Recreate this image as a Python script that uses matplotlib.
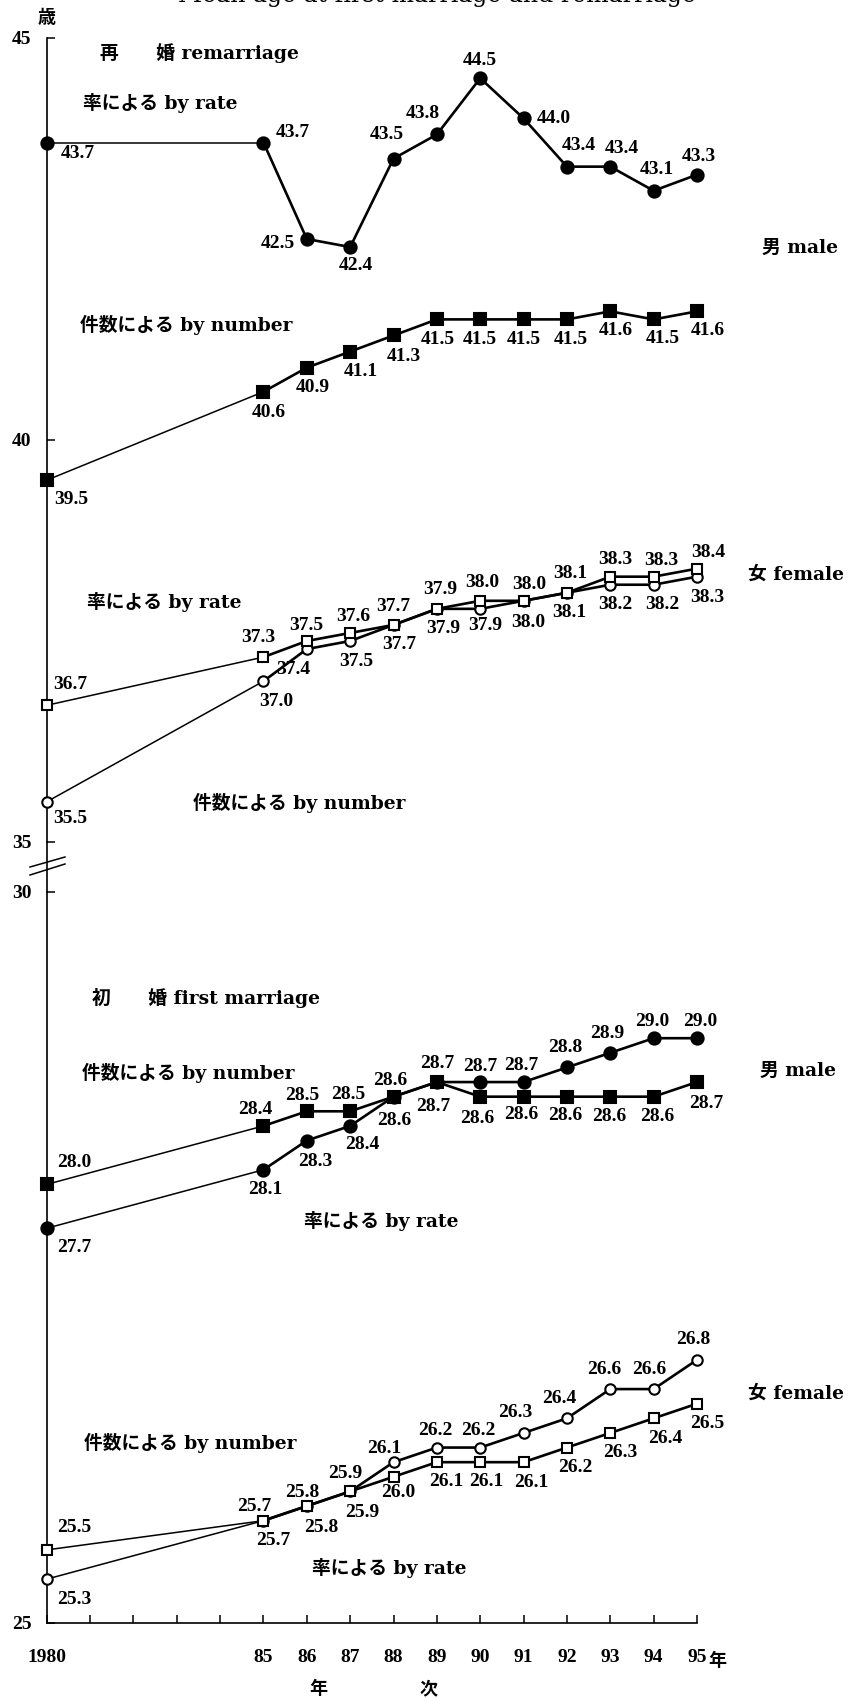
import matplotlib
matplotlib.use('Agg')
import matplotlib.pyplot as plt
from matplotlib.lines import Line2D

#------------ donnees ----------
years = [1980, 1985, 1986, 1987, 1988, 1989, 1990, 1991, 1992, 1993, 1994, 1995]
tick_labels = ['1980', '85', '86', '87', '88', '89', '90', '91', '92', '93', '94', '95']
minor_years = [1981, 1982, 1983, 1984]

# remarriage (re)
re_male_rate = [43.7, 43.7, 42.5, 42.4, 43.5, 43.8, 44.5, 44.0, 43.4, 43.4, 43.1, 43.3]
re_male_number = [39.5, 40.6, 40.9, 41.1, 41.3, 41.5, 41.5, 41.5, 41.5, 41.6, 41.5, 41.6]
re_female_rate = [36.7, 37.3, 37.5, 37.6, 37.7, 37.9, 38.0, 38.0, 38.1, 38.3, 38.3, 38.4]
re_female_number = [35.5, 37.0, 37.4, 37.5, 37.7, 37.9, 37.9, 38.0, 38.1, 38.2, 38.2, 38.3]

# first marriage
first_male_number = [28.0, 28.4, 28.5, 28.5, 28.6, 28.7, 28.6, 28.6, 28.6, 28.6, 28.6, 28.7]
first_male_rate = [27.7, 28.1, 28.3, 28.4, 28.6, 28.7, 28.7, 28.7, 28.8, 28.9, 29.0, 29.0]
first_female_number = [25.5, 25.7, 25.8, 25.9, 26.0, 26.1, 26.1, 26.1, 26.2, 26.3, 26.4, 26.5]
first_female_rate = [25.3, 25.7, 25.8, 25.9, 26.1, 26.2, 26.2, 26.3, 26.4, 26.6, 26.6, 26.8]

#------------ decalage des etiquettes (pixels) ----------
off_re_male_rate = [(31, -11), (29, 10), (-29, -5), (6, -18), (-7, 24), (-14, 21),
                    (0, 18), (30, 0), (12, 21), (12, 18), (3, 21), (2, 18)]
off_re_male_number = [(25, -19), (5, -21), (6, -20), (11, -20), (10, -21), (1, -20),
                      (0, -20), (0, -20), (4, -20), (6, -19), (9, -19), (11, -19)]
off_re_female_rate = [(24, 21), (-5, 20), (-1, 16), (3, 16), (0, 18), (3, 19),
                      (2, 18), (6, 16), (3, 19), (5, 17), (8, 16), (11, 16)]
off_re_female_number = [(24, -17), (13, -20), (-14, -20), (6, -20), (6, -20), (6, -20),
                        (5, -17), (5, -22), (2, -20), (5, -20), (9, -20), (10, -21)]
off_first_male_number = [(28, 22), (-8, 16), (-5, 16), (-2, 17), (-3, 16), (0, 19),
                         (-3, -22), (-2, -18), (-2, -19), (-1, -20), (4, -20), (9, -21)]
off_first_male_rate = [(28, -19), (2, -20), (8, -21), (12, -19), (1, -24), (-4, -24),
                       (0, 16), (-2, 17), (-2, 20), (-3, 19), (-1, 17), (3, 17)]
off_first_female_number = [(28, 22), (-9, 14), (-5, 14), (-5, 18), (5, -16), (9, -19),
                           (6, -19), (8, -20), (8, -20), (10, -20), (12, -20), (10, -20)]
off_first_female_rate = [(28, -20), (10, -20), (14, -21), (12, -21), (-9, 14), (-2, 17),
                         (-2, 17), (-8, 20), (-8, 20), (-6, 20), (-4, 20), (-4, 20)]

num_font = ['Liberation Serif', 'DejaVu Serif']
txt_font = ['DejaVu Serif', 'Noto Sans CJK JP']
plt.rcParams['font.family'] = ['Liberation Serif', 'Noto Sans CJK JP']
plt.rcParams['font.weight'] = 'bold'

W, H = 852, 1698
fig = plt.figure(figsize=(W / 100, H / 100), dpi=100)

def fx(px):
  return px / W

def fy(py):
  return 1 - py / H

x_left, x_right = 46.7, 697
ax_top = fig.add_axes([fx(x_left), fy(842), fx(x_right - x_left), (842 - 38) / H])
ax_bot = fig.add_axes([fx(x_left), fy(1623), fx(x_right - x_left), (1623 - 892) / H])

def draw(ax, vals, marker, filled, ms):
  face = 'black' if filled else 'white'
  ax.plot(years[:2], vals[:2], color='black', lw=1.1, zorder=2, clip_on=False)
  ax.plot(years[1:], vals[1:], color='black', lw=1.9, zorder=2, clip_on=False)
  ax.plot(years, vals, ls='none', marker=marker, ms=ms, mfc=face, mec='black',
          mew=1.5, zorder=3, clip_on=False)

def labels(ax, vals, offs):
  for x, v, (dx, dy) in zip(years, vals, offs):
    ax.annotate('%.1f' % v, (x, v), xytext=(dx, dy), textcoords='offset pixels',
                ha='center', va='center', fontsize=14, family=num_font,
                weight='bold', annotation_clip=False)

#--- remariage ---
draw(ax_top, re_male_rate, 'o', True, 8.8)
draw(ax_top, re_male_number, 's', True, 8.2)
draw(ax_top, re_female_number, 'o', False, 7.5)
draw(ax_top, re_female_rate, 's', False, 7.5)
labels(ax_top, re_male_rate, off_re_male_rate)
labels(ax_top, re_male_number, off_re_male_number)
labels(ax_top, re_female_rate, off_re_female_rate)
labels(ax_top, re_female_number, off_re_female_number)

#--- premier mariage ---
draw(ax_bot, first_male_rate, 'o', True, 8.8)
draw(ax_bot, first_male_number, 's', True, 8.2)
draw(ax_bot, first_female_rate, 'o', False, 7.5)
draw(ax_bot, first_female_number, 's', False, 7.5)
labels(ax_bot, first_male_number, off_first_male_number)
labels(ax_bot, first_male_rate, off_first_male_rate)
labels(ax_bot, first_female_number, off_first_female_number)
labels(ax_bot, first_female_rate, off_first_female_rate)

#--- axes ---
for ax in (ax_top, ax_bot):
  ax.set_xlim(1980, 1995)
  for s in ('top', 'right'):
    ax.spines[s].set_visible(False)
  ax.spines['left'].set_linewidth(1.2)
  ax.spines['bottom'].set_linewidth(1.2)
  ax.tick_params(axis='y', direction='in', length=6, width=1.1, pad=11,
                 labelsize=14)
  ax.patch.set_alpha(0)

ax_top.set_ylim(35, 45)
ax_top.set_yticks([35, 40, 45])
ax_top.spines['bottom'].set_visible(False)
ax_top.set_xticks([])

ax_bot.set_ylim(25, 30)
ax_bot.set_yticks([25, 30])
ax_bot.set_xticks(years)
ax_bot.set_xticklabels(tick_labels)
ax_bot.set_xticks(minor_years, minor=True)
ax_bot.tick_params(axis='x', which='both', direction='in', length=6, width=1.1,
                   pad=19, labelsize=14)

# liaison de l'axe et coupure
fig.add_artist(Line2D([fx(x_left)] * 2, [fy(842), fy(892)], color='black', lw=1.2))
fig.add_artist(Line2D([fx(30), fx(65)], [fy(867), fy(857)], color='black', lw=1.1))
fig.add_artist(Line2D([fx(30), fx(65)], [fy(875), fy(864)], color='black', lw=1.1))

#--- textes ---
def txt(s, x, y, ha='left', size=13.5, weight='bold', fam=txt_font):
  fig.text(fx(x), fy(y), s, ha=ha, va='center', fontsize=size, family=fam,
           weight=weight)

fig.text(fx(437), fy(2), 'Mean age at first marriage and remarriage', ha='center',
         va='baseline', fontsize=17, family=['DejaVu Serif'], weight='normal')
txt('歳', 47, 18, ha='center', size=13)
txt('再　　婚 remarriage', 100, 53)
txt('率による by rate', 83, 103)
txt('男 male', 762, 248)
txt('件数による by number', 80, 325)
txt('率による by rate', 87, 602)
txt('女 female', 844, 575, ha='right')
txt('件数による by number', 193, 803)
txt('初　　婚 first marriage', 92, 998)
txt('件数による by number', 82, 1073)
txt('男 male', 760, 1071)
txt('率による by rate', 304, 1221)
txt('女 female', 844, 1394, ha='right')
txt('件数による by number', 84, 1443)
txt('率による by rate', 312, 1568)
txt('年', 708, 1661, size=13)
txt('年', 318, 1689, ha='center', size=13)
txt('次', 428, 1689, ha='center', size=13)

fig.savefig('out.png', dpi=100)
